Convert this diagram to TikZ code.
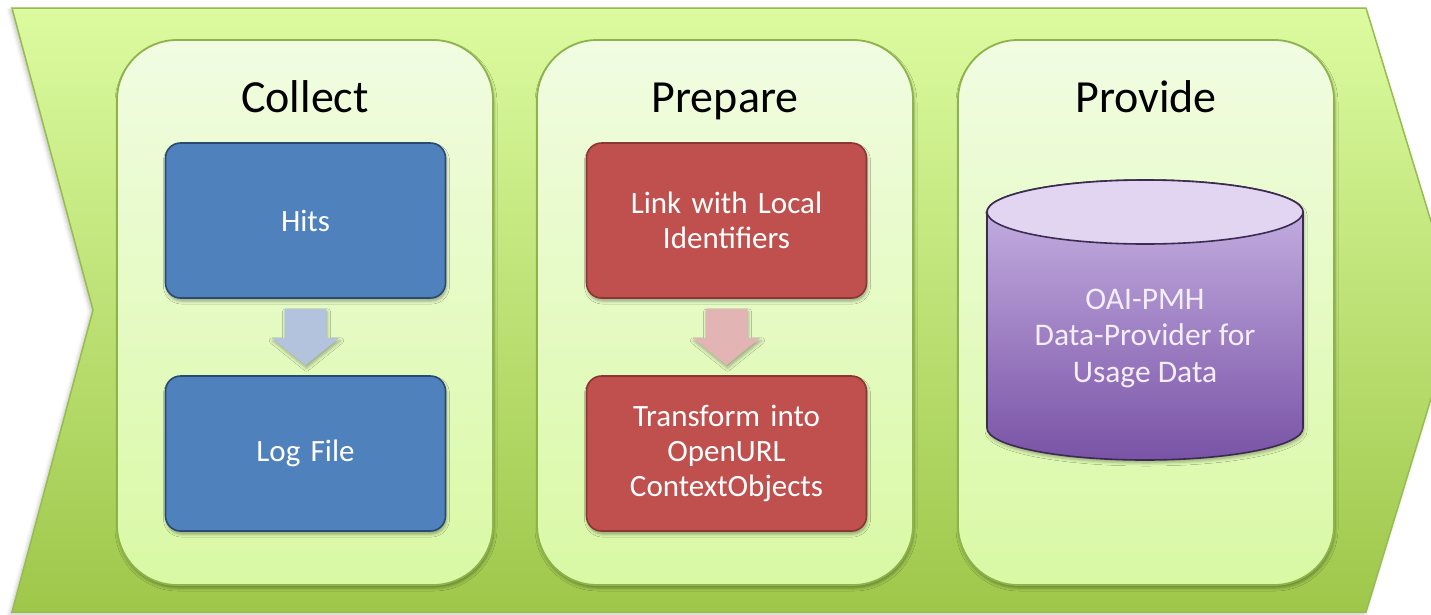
\documentclass[tikz,border=0pt]{standalone}
\usepackage{fontspec}
\setmainfont{Carlito}
\usetikzlibrary{calc,shadows.blur}

\definecolor{chevtop}{HTML}{DCFBA0}
\definecolor{chevbot}{HTML}{9EC74A}
\definecolor{chevline}{HTML}{96BD4E}
\definecolor{paneltop}{HTML}{F1FCE2}
\definecolor{panelbot}{HTML}{D9F9A4}
\definecolor{panelline}{HTML}{8DB34A}
\definecolor{bluefill}{HTML}{4F81BD}
\definecolor{blueline}{HTML}{2A4A72}
\definecolor{redfill}{HTML}{C0504D}
\definecolor{redline}{HTML}{8A3634}
\definecolor{bluearrow}{HTML}{B3C3DE}
\definecolor{redarrow}{HTML}{E2B5B4}
\definecolor{dbtop}{HTML}{E1D5F1}
\definecolor{dbupper}{HTML}{CBB7E6}
\definecolor{dblower}{HTML}{7953A6}
\definecolor{dbline}{HTML}{3B2B50}
\definecolor{dbtext}{HTML}{F3EEF9}

\tikzset{
  softshadow/.style={blur shadow={shadow xshift=1pt, shadow yshift=-3pt,
      shadow blur radius=3pt, shadow opacity=35}},
  panel/.style={draw=panelline, line width=1.8pt, rounded corners=60pt,
      top color=paneltop, bottom color=panelbot,
      minimum width=376pt, minimum height=545pt, softshadow},
  stagetitle/.style={font=\fontsize{46}{55}\selectfont, anchor=base, text=black},
  taskbox/.style={line width=1.6pt, rounded corners=15pt,
      minimum width=280pt, minimum height=155pt, text width=270pt, align=center,
      text=white, font=\fontsize{31}{35}\selectfont, softshadow},
  bluebox/.style={taskbox, draw=blueline, fill=bluefill},
  redbox/.style={taskbox, draw=redline, fill=redfill},
  flowarrow/.style={blur shadow={shadow xshift=1pt, shadow yshift=-3pt,
      shadow blur radius=3pt, shadow opacity=30}},
}

\begin{document}
\begin{tikzpicture}[x=1pt, y=-1pt]
\useasboundingbox (0,0) rectangle (1431,614);

% the green chevron behind the three stages
\path[top color=chevtop, bottom color=chevbot, draw=chevline, line width=1.5pt,
      blur shadow={shadow xshift=-2pt, shadow yshift=-2pt, shadow blur radius=4pt, shadow opacity=25}]
  (12,8) -- (1366,8) -- (1458,310) -- (1366,612) -- (12,612) -- (93,310) -- cycle;

% stage panels
\node[panel] (collect) at (305,312.5) {};
\node[panel] (prepare) at (725,312.5) {};
\node[panel] (provide) at (1146,312.5) {};

% stage titles
\node[stagetitle] (tcollect) at (305,112) {Collect};
\node[stagetitle] (tprepare) at (725,112) {Prepare};
\node[stagetitle] (tprovide) at (1146,112) {Provide};

% Collect
\node[bluebox] (hits) at (305.5,220.5) {Hits};
\node[bluebox] (logf) at (305.5,453.5) {Log File};
\fill[bluearrow, flowarrow]
  ($(hits.south)+(-21,10)$) -- ++(42,0) -- ++(0,29) -- ++(13,0)
  -- ($(logf.north)+(0,-10)$) -- ($(hits.south)+(-34,39)$) -- ++(13,0) -- cycle;

% Prepare
\node[redbox] (link) at (726.5,220.5) {Link with Local\\Identifiers};
\node[redbox] (trans) at (726.5,453.5) {Transform into\\OpenURL\\ContextObjects};
\fill[redarrow, flowarrow]
  ($(link.south)+(-21,10)$) -- ++(42,0) -- ++(0,29) -- ++(13,0)
  -- ($(trans.north)+(0,-10)$) -- ($(link.south)+(-34,39)$) -- ++(13,0) -- cycle;

% Provide: data store cylinder
\path[top color=dbupper, bottom color=dblower, draw=dbline, line width=1.6pt,
      blur shadow={shadow xshift=1pt, shadow yshift=-3pt, shadow blur radius=3pt, shadow opacity=30}]
  (987,212) -- (987,428)
  arc[start angle=180, end angle=360, x radius=158pt, y radius=32pt]
  -- (1303,212)
  arc[start angle=0, end angle=180, x radius=158pt, y radius=32pt] -- cycle;
\path[fill=dbtop, draw=dbline, line width=1.6pt]
  (1145,212) ellipse[x radius=158pt, y radius=32pt];
\node[text=dbtext, font=\fontsize{31.5}{36.5}\selectfont, align=center] (store) at (1145,338)
  {OAI-PMH\\Data-Provider for\\Usage Data};
\end{tikzpicture}
\end{document}
